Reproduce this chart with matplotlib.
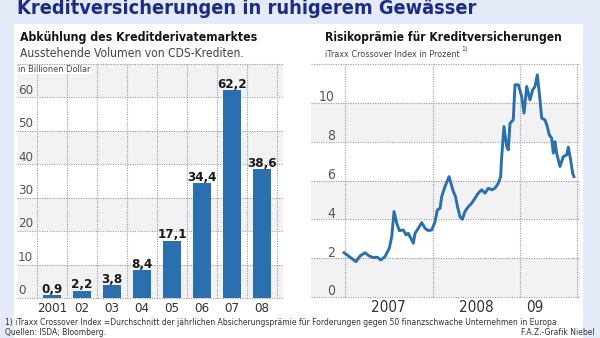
import numpy as np
import matplotlib.pyplot as plt
from matplotlib import font_manager as fm
from matplotlib.patches import Rectangle

W, H = 600, 338

# prefer a narrow sans if one is installed
fonts = fm.fontManager.ttflist
if any(f.name == 'Liberation Sans Narrow' for f in fonts):
    plt.rcParams['font.family'] = ['Liberation Sans Narrow', 'DejaVu Sans']
elif any(f.name == 'DejaVu Sans' and f.stretch == 'condensed' for f in fonts):
    plt.rcParams['font.family'] = ['DejaVu Sans']
    plt.rcParams['font.stretch'] = 'condensed'
else:
    plt.rcParams['font.family'] = ['Liberation Sans', 'DejaVu Sans']

# CDS volume, trillion dollars
years = ['2001', '02', '03', '04', '05', '06', '07', '08']
volume = [0.9, 2.2, 3.8, 8.4, 17.1, 34.4, 62.2, 38.6]

# iTraxx Crossover, percent (decimal years)
itraxx_date = [2006.989, 2007.057, 2007.126, 2007.171, 2007.229, 2007.278, 2007.323,
               2007.369, 2007.408, 2007.457, 2007.506, 2007.534, 2007.560, 2007.591,
               2007.621, 2007.666, 2007.697, 2007.723, 2007.762, 2007.781, 2007.800,
               2007.838, 2007.877, 2007.914, 2007.952, 2007.991, 2008.029, 2008.055,
               2008.086, 2008.105, 2008.143, 2008.166, 2008.189, 2008.238, 2008.263,
               2008.286, 2008.314, 2008.340, 2008.371, 2008.409, 2008.448, 2008.486,
               2008.523, 2008.562, 2008.600, 2008.638, 2008.677, 2008.714, 2008.752,
               2008.779, 2008.791, 2008.817, 2008.848, 2008.866, 2008.886, 2008.923,
               2008.943, 2008.981, 2009.019, 2009.046, 2009.077, 2009.114, 2009.145,
               2009.171, 2009.198, 2009.221, 2009.248, 2009.286, 2009.312, 2009.335,
               2009.362, 2009.381, 2009.400, 2009.419, 2009.457, 2009.495, 2009.534,
               2009.552, 2009.579, 2009.602, 2009.617]
itraxx_pct = [2.28, 2.05, 1.82, 2.11, 2.28, 2.11, 2.03,
              2.05, 1.91, 2.08, 2.51, 3.11, 4.40, 3.80,
              3.42, 3.45, 3.20, 3.28, 2.94, 2.77, 3.28,
              3.54, 3.83, 3.54, 3.42, 3.45, 3.88, 4.48,
              4.57, 5.17, 5.69, 5.95, 6.20, 5.43, 5.17,
              4.65, 4.14, 4.00, 4.40, 4.65, 4.83, 5.09,
              5.35, 5.52, 5.35, 5.60, 5.52, 5.60, 5.86,
              6.20, 7.23, 8.78, 7.75, 7.58, 8.95, 9.12,
              10.93, 10.93, 10.32, 9.47, 10.84, 10.15, 10.67,
              10.84, 11.44, 10.50, 9.21, 9.12, 8.78, 8.35,
              8.18, 7.41, 8.00, 7.41, 6.72, 7.23, 7.32,
              7.72, 7.06, 6.38, 6.20]

blue = '#2a6fae'
band = '#f2f2f5'
grid_kw = dict(color='#9c9c9c', lw=0.8, ls=(0, (1, 1.2)), clip_on=False, zorder=1)

fig = plt.figure(figsize=(W / 100, H / 100), dpi=100)
fig.patch.set_facecolor('#e4eaf7')
fig.add_artist(Rectangle((14 / W, 0), 569 / W, 1 - 24 / H, transform=fig.transFigure,
                         fc='white', ec='none', zorder=-1))


def ftext(x, y, s, width=None, **kw):
    # text placed by pixel position, optionally scaled to a given width
    t = fig.text(x / W, 1 - y / H, s, va='baseline', **kw)
    if width:
        w = t.get_window_extent(fig.canvas.get_renderer()).width
        t.set_fontsize(t.get_fontsize() * width / w)
    return t


ftext(17, 14, 'Kreditversicherungen in ruhigerem Gewässer', width=456,
      weight='bold', color='#1b2c85')

# left: bar chart
ftext(20, 41, 'Abkühlung des Kreditderivatemarktes', width=237, weight='bold', color='#151515')
ftext(20, 57, 'Ausstehende Volumen von CDS-Krediten.', width=223, color='#444444')

ax1 = fig.add_axes([17 / W, 1 - 298 / H, 266 / W, 234 / H])
ax1.set_xlim(-1.167, 7.7)
ax1.set_ylim(0, 70)
ax1.axis('off')
for lo in range(0, 70, 20):
    ax1.axhspan(lo, lo + 10, color=band, lw=0, zorder=0)
for v in range(0, 80, 10):
    ax1.axhline(v, **grid_kw)
for i in range(len(years) + 1):
    ax1.axvline(i - 0.5, **grid_kw)

x = np.arange(len(years))
ax1.bar(x, volume, width=0.63, color=blue, zorder=2)
for xi, v in zip(x, volume):
    ax1.text(xi, v + 0.7, f'{v:.1f}'.replace('.', ','), ha='center', va='baseline',
             fontsize=9.5, weight='bold', color='#1a1a1a')
for v in range(0, 70, 10):
    ax1.text(-1.133, v + 1.1, str(v), va='baseline', fontsize=9.5, color='#555555')
for xi, lab in zip(x, years):
    ax1.text(xi, -14 / 234, lab, transform=ax1.get_xaxis_transform(), ha='center',
             va='baseline', fontsize=9.5, color='#333333', clip_on=False)
ftext(18, 72, 'in Billionen Dollar', width=72, color='#444444',
      bbox=dict(fc='white', ec='none', pad=0.5))

# right: line chart
ftext(325, 41, 'Risikoprämie für Kreditversicherungen', width=235, weight='bold', color='#151515')
sub = ftext(325, 57, 'iTraxx Crossover Index in Prozent', width=135, color='#444444')
ftext(327 + sub.get_window_extent().width, 51, '1)', fontsize=5, color='#444444')

ax2 = fig.add_axes([311 / W, 1 - 297 / H, 269 / W, 233 / H])
ax2.set_xlim(2006.611, 2009.686)
ax2.set_ylim(0, 12)
ax2.axis('off')
for lo in range(0, 12, 4):
    ax2.axhspan(lo, lo + 2, color=band, lw=0, zorder=0)
for v in range(0, 14, 2):
    ax2.axhline(v, **grid_kw)
for xv in [2007, 2008, 2009, 2009.651]:
    ax2.axvline(xv, **grid_kw)
ax2.plot(itraxx_date, itraxx_pct, color=blue, lw=2.1, solid_joinstyle='round', zorder=3)
for v in range(0, 12, 2):
    ax2.text(2006.886, v + 0.08, str(v), ha='right', va='baseline', fontsize=10,
             color='#555555')
for xv, lab in [(2007.5, '2007'), (2008.5, '2008'), (2009.171, '09')]:
    ax2.text(xv, -15 / 233, lab, transform=ax2.get_xaxis_transform(), ha='center',
             va='baseline', fontsize=11, color='#333333', clip_on=False)

# footnotes
note = ftext(5, 325, '1) iTraxx Crossover Index =Durchschnitt der jährlichen Absicherungsprämie '
             'für Forderungen gegen 50 finanzschwache Unternehmen in Europa.',
             width=552, color='#333333')
ftext(5, 335, 'Quellen: ISDA; Bloomberg.', fontsize=note.get_fontsize(), color='#333333')
ftext(595, 335, 'F.A.Z.-Grafik Niebel', fontsize=note.get_fontsize(), ha='right', color='#333333')

fig.savefig('out.png', dpi=100, facecolor=fig.get_facecolor())
